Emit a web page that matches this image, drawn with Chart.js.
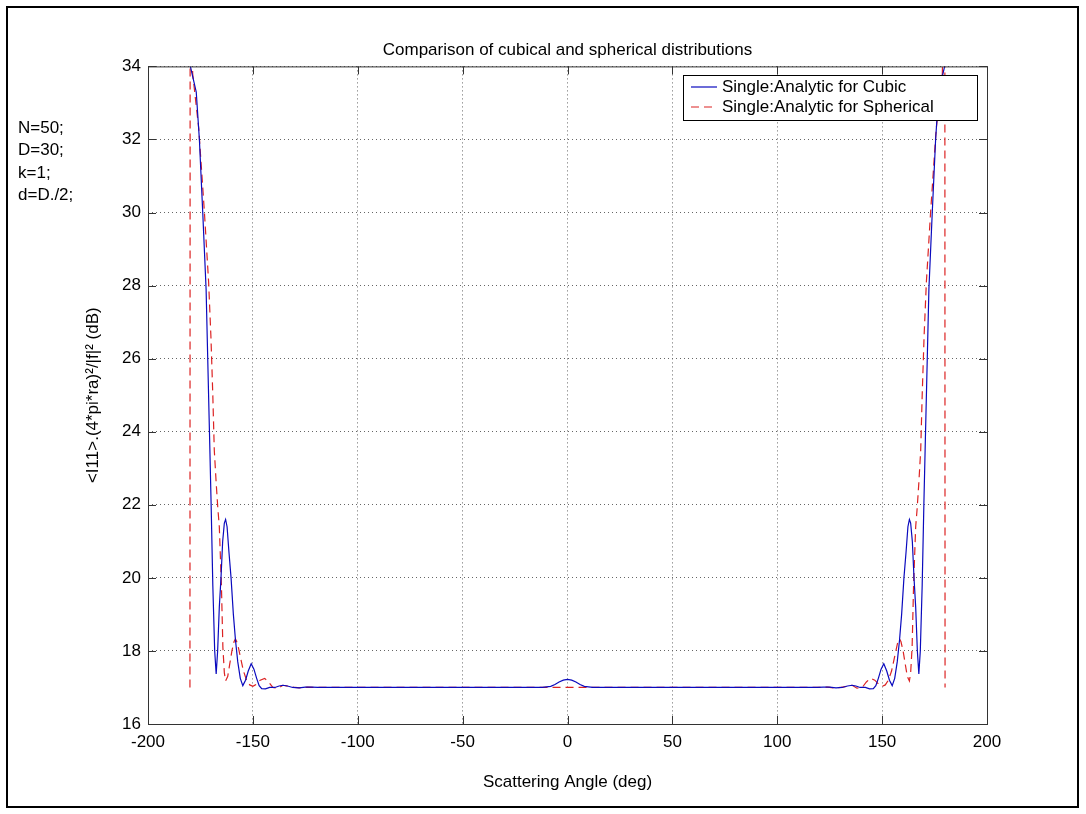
<!DOCTYPE html>
<html>
<head>
    <meta charset="UTF-8">
    <title>Comparison of cubical and spherical distributions</title>
    <style>
        body {
            margin: 0;
            padding: 0;
            background-color: #fff;
        }
        canvas {
            display: block;
        }
    </style>
</head>
<body>
    <canvas id="myChart" width="1086" height="814"></canvas>

    <script src="https://cdn.jsdelivr.net/npm/chart.js"></script>
    <script>
        // Datos
        var cubicAngle = [-180, -179.8, -177, -175.5, -173.9, -172.3, -170.7, -169.9, -169.1, -168.2, -167.5, -166.8, -166, -165.2, -164.4, -163.6, -163, -162.3, -161.4, -160.4, -159.3, -158.3, -157.2, -156, -154.8, -153.5, -152.2, -150.8, -149.5, -148.2, -147, -145.8, -144, -142, -139.5, -137.5, -135.7, -133.5, -131, -128, -125, -122, -119, -110, -60, -12, -8, -6, -4, -2, 0,
            2, 4, 6, 8, 12, 60, 110, 119, 122, 125, 128, 131, 133.5, 135.7, 137.5, 139.5, 142, 144, 145.8, 147, 148.2, 149.5, 150.8, 152.2, 153.5, 154.8, 156, 157.2, 158.3, 159.3, 160.4, 161.4, 162.3, 163, 163.6, 164.4, 165.2, 166, 166.8, 167.5, 168.2, 169.1, 169.9, 170.7, 172.3, 173.9, 175.5, 177, 179.8, 180];
        var cubicValue = [34.6, 34.0, 33.3, 32.0, 30.0, 27.9, 24.0, 22.0, 19.8, 18.0, 17.37, 18.0, 19.2, 20.0, 21.0, 21.5, 21.6, 21.4, 20.7, 20.0, 19.0, 18.3, 17.7, 17.25, 17.05, 17.2, 17.45, 17.65, 17.5, 17.25, 17.05, 16.97, 16.96, 17.0, 17.0, 17.04, 17.06, 17.04, 17.0, 16.99, 17.01, 17.01, 17.0, 17.0, 17.0, 17.0, 17.03, 17.08, 17.15, 17.2, 17.22,
            17.2, 17.15, 17.08, 17.03, 17.0, 17.0, 17.0, 17.0, 17.01, 17.01, 16.99, 17.0, 17.04, 17.06, 17.04, 17.0, 17.0, 16.96, 16.97, 17.05, 17.25, 17.5, 17.65, 17.45, 17.2, 17.05, 17.25, 17.7, 18.3, 19.0, 20.0, 20.7, 21.4, 21.6, 21.5, 21.0, 20.0, 19.2, 18.0, 17.37, 18.0, 19.8, 22.0, 24.0, 27.9, 30.0, 32.0, 33.3, 34.0, 34.6];

        var sphericalAngle = [-180, -179.9, -178.7, -175.8, -173.1, -171.1, -170, -169.1, -168.4, -167.5, -166.7, -166, -165, -164.3, -163.6, -163, -162, -161, -160, -159, -158.3, -157.3, -156, -154.5, -153, -151.5, -150, -148.5, -146.5, -144.4, -142.5, -140.5, -138, -135.7, -133, -130, -127, -124, -120, -100, 0,
            100, 120, 124, 127, 130, 133, 135.7, 138, 140.5, 142.5, 144.4, 146.5, 148.5, 150, 151.5, 153, 154.5, 156, 157.3, 158.3, 159, 160, 161, 162, 163, 163.6, 164.3, 165, 166, 166.7, 167.5, 168.4, 169.1, 170, 171.1, 173.1, 175.8, 178.7, 179.9, 180];
        var sphericalValue = [17.0, 37.0, 33.8, 32.3, 30.0, 28.1, 26.6, 25.0, 23.5, 22.6, 21.9, 21.4, 19.8, 18.1, 17.4, 17.18, 17.3, 17.65, 18.0, 18.25, 18.33, 18.2, 17.85, 17.45, 17.2, 17.07, 17.03, 17.08, 17.2, 17.25, 17.15, 17.0, 16.98, 17.06, 17.03, 17.0, 16.99, 17.01, 17.0, 17.0, 17.0,
            17.0, 17.0, 17.01, 16.99, 17.0, 17.03, 17.06, 16.98, 17.0, 17.15, 17.25, 17.2, 17.08, 17.03, 17.07, 17.2, 17.45, 17.85, 18.2, 18.33, 18.25, 18.0, 17.65, 17.3, 17.18, 17.4, 18.1, 19.8, 21.4, 21.9, 22.6, 23.5, 25.0, 26.6, 28.1, 30.0, 32.3, 33.8, 37.0, 17.0];

        var xTickValues = [-200, -150, -100, -50, 0, 50, 100, 150, 200];
        var yTickValues = [16, 18, 20, 22, 24, 26, 28, 30, 32, 34];
        var notes = ['N=50;', 'D=30;', 'k=1;', 'd=D./2;'];

        var FONT = '"Liberation Sans", Arial, sans-serif';

        function toPoints(xs, ys) {
            return xs.map(function(x, i) { return { x: x, y: ys[i] }; });
        }

        // Caja, marcas interiores, leyenda y notas al estilo MATLAB
        var matlabPlugin = {
            id: 'matlab',
            afterDraw: function(chart) {
                var ctx = chart.ctx;
                var a = chart.chartArea;
                var xs = chart.scales.x, ys = chart.scales.y;
                ctx.save();

                // marco de la figura
                ctx.strokeStyle = '#000';
                ctx.lineWidth = 2;
                ctx.strokeRect(7, 7, 1071, 800);

                // caja de ejes
                ctx.strokeStyle = '#333';
                ctx.lineWidth = 1;
                ctx.strokeRect(a.left + 0.5, a.top + 0.5, a.right - a.left, a.bottom - a.top);

                // marcas hacia dentro
                ctx.beginPath();
                xTickValues.forEach(function(v) {
                    var px = Math.round(xs.getPixelForValue(v)) + 0.5;
                    ctx.moveTo(px, a.bottom); ctx.lineTo(px, a.bottom - 8);
                    ctx.moveTo(px, a.top); ctx.lineTo(px, a.top + 8);
                });
                yTickValues.forEach(function(v) {
                    var py = Math.round(ys.getPixelForValue(v)) + 0.5;
                    ctx.moveTo(a.left, py); ctx.lineTo(a.left + 8, py);
                    ctx.moveTo(a.right, py); ctx.lineTo(a.right - 8, py);
                });
                ctx.stroke();

                // leyenda
                var lx = 683, ly = 75, lw = 294, lh = 45;
                ctx.fillStyle = '#fff';
                ctx.fillRect(lx, ly, lw, lh);
                ctx.strokeStyle = '#000';
                ctx.strokeRect(lx + 0.5, ly + 0.5, lw, lh);
                ctx.font = '17px ' + FONT;
                ctx.textBaseline = 'middle';
                ctx.textAlign = 'left';
                chart.data.datasets.forEach(function(ds, i) {
                    var y = ly + 12 + i * 20;
                    ctx.beginPath();
                    ctx.strokeStyle = ds.borderColor;
                    ctx.lineWidth = 1.2;
                    ctx.setLineDash(ds.borderDash || []);
                    ctx.moveTo(lx + 8, y);
                    ctx.lineTo(lx + 34, y);
                    ctx.stroke();
                    ctx.setLineDash([]);
                    ctx.fillStyle = '#000';
                    ctx.fillText(ds.label, lx + 39, y);
                });

                // notas a la izquierda
                ctx.fillStyle = '#000';
                ctx.font = '17px ' + FONT;
                notes.forEach(function(t, i) {
                    ctx.fillText(t, 18, 128 + i * 22.5);
                });
                ctx.restore();
            }
        };

        document.addEventListener('DOMContentLoaded', function() {
            var ctx = document.getElementById('myChart').getContext('2d');
            var chart = new Chart(ctx, {
                type: 'line',
                data: {
                    datasets: [{
                        label: 'Single:Analytic for Cubic',
                        data: toPoints(cubicAngle, cubicValue),
                        borderColor: 'rgb(10,10,190)',
                        borderWidth: 1.2,
                        pointRadius: 0,
                        tension: 0,
                        fill: false
                    }, {
                        label: 'Single:Analytic for Spherical',
                        data: toPoints(sphericalAngle, sphericalValue),
                        borderColor: 'rgb(220,35,35)',
                        borderWidth: 1.2,
                        borderDash: [8, 5],
                        pointRadius: 0,
                        tension: 0,
                        fill: false
                    }]
                },
                options: {
                    responsive: false,
                    animation: false,
                    layout: { padding: { left: 0, top: 0, right: 99, bottom: 0 } },
                    scales: {
                        x: {
                            type: 'linear',
                            min: -200,
                            max: 200,
                            afterBuildTicks: function(s) {
                                s.ticks = xTickValues.map(function(v) { return { value: v }; });
                            },
                            afterFit: function(s) { s.height = 90; },
                            grid: { color: '#666', drawTicks: false },
                            border: { display: false, dash: [1, 3] },
                            ticks: {
                                color: '#000',
                                font: { family: FONT, size: 17 },
                                padding: 8,
                                maxRotation: 0,
                                autoSkip: false
                            },
                            title: {
                                display: true,
                                text: 'Scattering Angle (deg)',
                                color: '#000',
                                font: { family: FONT, size: 17 },
                                padding: { top: 0, bottom: 21 }
                            }
                        },
                        y: {
                            min: 16,
                            max: 34,
                            afterBuildTicks: function(s) {
                                s.ticks = yTickValues.map(function(v) { return { value: v }; });
                            },
                            afterFit: function(s) { s.width = 148; },
                            grid: { color: '#666', drawTicks: false },
                            border: { display: false, dash: [1, 3] },
                            ticks: {
                                color: '#000',
                                font: { family: FONT, size: 17 },
                                padding: 7
                            },
                            title: {
                                display: true,
                                text: '<I11>.(4*pi*ra)²/|f|² (dB)',
                                color: '#000',
                                font: { family: FONT, size: 17 },
                                padding: { top: 83, bottom: 0 }
                            }
                        }
                    },
                    plugins: {
                        legend: { display: false },
                        tooltip: { enabled: false },
                        title: {
                            display: true,
                            fullSize: false,
                            text: 'Comparison of cubical and spherical distributions',
                            color: '#000',
                            font: { family: FONT, size: 17, weight: 'normal' },
                            padding: { top: 40, bottom: 6 }
                        }
                    }
                },
                plugins: [matlabPlugin]
            });
        });
    </script>
</body>
</html>
